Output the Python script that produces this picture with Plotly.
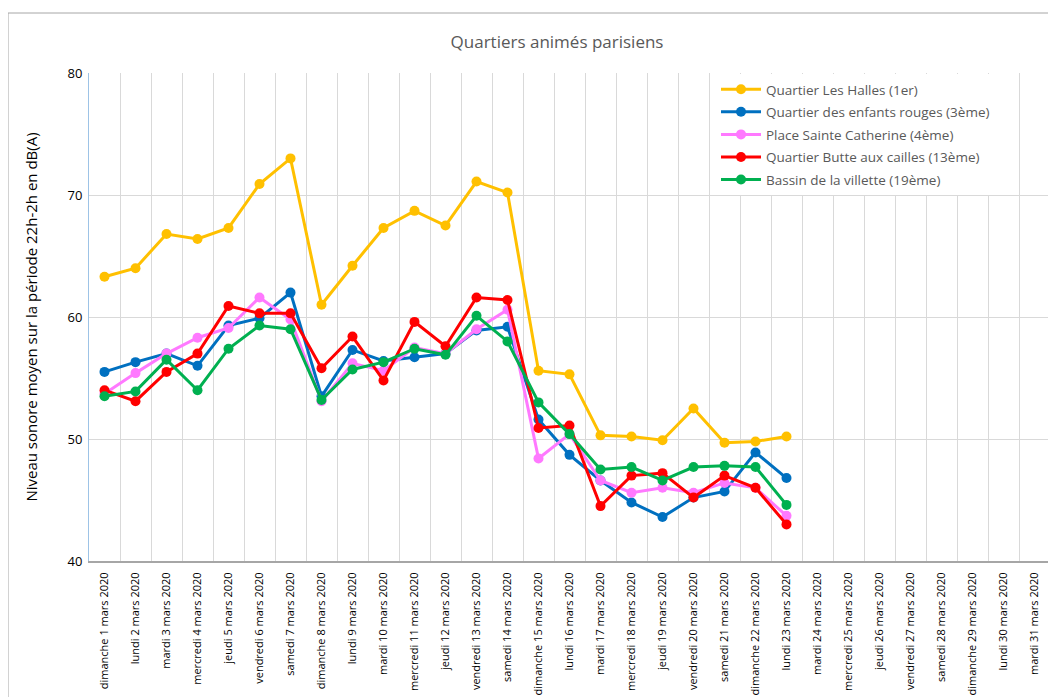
import plotly.graph_objects as go

days = ["dimanche", "lundi", "mardi", "mercredi", "jeudi", "vendredi", "samedi"]
categories = [f"{days[i % 7]} {i + 1} mars 2020" for i in range(31)]

series_names = [
    "Quartier Les Halles (1er)",
    "Quartier des enfants rouges (3ème)",
    "Place Sainte Catherine (4ème)",
    "Quartier Butte aux cailles (13ème)",
    "Bassin de la villette (19ème)",
]

halles = [63.3, 64.0, 66.8, 66.4, 67.3, 70.9, 73.0, 61.0, 64.2, 67.3, 68.7, 67.5,
          71.1, 70.2, 55.6, 55.3, 50.3, 50.2, 49.9, 52.5, 49.7, 49.8, 50.2]
enfants_rouges = [55.5, 56.3, 57.0, 56.0, 59.3, 59.9, 62.0, 53.5, 57.3, 56.4, 56.7, 57.0,
                  58.9, 59.2, 51.6, 48.7, 46.6, 44.8, 43.6, 45.2, 45.7, 48.9, 46.8]
sainte_catherine = [53.7, 55.4, 57.0, 58.3, 59.1, 61.6, 59.8, 53.1, 56.2, 55.6, 57.5, 57.0,
                    59.0, 60.6, 48.4, 50.4, 46.6, 45.6, 46.0, 45.6, 46.4, 46.0, 43.7]
butte_cailles = [54.0, 53.1, 55.5, 57.0, 60.9, 60.3, 60.3, 55.8, 58.4, 54.8, 59.6, 57.6,
                 61.6, 61.4, 50.9, 51.1, 44.5, 47.0, 47.2, 45.2, 47.0, 46.0, 43.0]
villette = [53.5, 53.9, 56.5, 54.0, 57.4, 59.3, 59.0, 53.2, 55.7, 56.3, 57.4, 56.9,
            60.1, 58.0, 53.0, 50.4, 47.5, 47.7, 46.6, 47.7, 47.8, 47.7, 44.6]

all_series = [halles, enfants_rouges, sainte_catherine, butte_cailles, villette]
colors = ["#FFC000", "#0070C0", "#FF79FF", "#FF0000", "#00B050"]

y_ticks = [40, 50, 60, 70, 80]

fig = go.Figure()
for i, (name, vals, col) in enumerate(zip(series_names, all_series, colors)):
    fig.add_trace(go.Scatter(
        x=categories[:len(vals)], y=vals, name=name, mode="lines+markers",
        legendgroup=f"g{i}",
        line=dict(color=col, width=3),
        marker=dict(color=col, size=10),
    ))

# page body has an 8px default margin: work in reference pixels, offset by 8
OFF = 8
VW, VH = 1056, 697
W, H = VW - OFF, VH - OFF
PL, PR, PT, PB = 89, 1050, 73, 561          # plot area in reference pixels
L, T = PL - OFF, PT - OFF
R, B = W - (PR - OFF), H - (PB - OFF)
pw, ph = W - L - R, H - T - B


def px_x(x):
    return (x - PL) / pw


def px_y(y):
    return (PB - y) / ph


fig.update_layout(
    width=W, height=H,
    margin=dict(l=L, r=R, t=T, b=B, autoexpand=False),
    paper_bgcolor="white", plot_bgcolor="white",
    title=dict(text="Quartiers animés parisiens", x=px_x(557), xref="paper",
               xanchor="center", y=1 - (42 - OFF) / H, yanchor="middle",
               font=dict(family="Open Sans", size=17, color="#595959")),
    font=dict(family="Open Sans", color="#404040"),
    showlegend=True,
    legend=dict(x=px_x(716), y=px_y(74), xanchor="left", yanchor="top",
                bgcolor="white", font=dict(family="Open Sans", size=13.5, color="#595959"),
                tracegroupgap=2, itemwidth=40),
    xaxis=dict(
        type="category", categoryorder="array", categoryarray=categories,
        range=[-0.5, 30.5], tickson="boundaries", showgrid=True, gridcolor="#D9D9D9",
        gridwidth=1, ticks="", tickangle=-90, automargin=False, ticklabelstandoff=5,
        tickfont=dict(family="Open Sans", size=11, color="#000000"),
        showline=True, linecolor="#A6A6A6", linewidth=2,
    ),
    yaxis=dict(
        range=[40, 80], tickvals=y_ticks, showgrid=True, gridcolor="#D9D9D9",
        gridwidth=1, zeroline=False, showline=True, linecolor="#9DC3E6", linewidth=1,
        ticks="", ticklabelstandoff=3, automargin=False,
        tickfont=dict(family="Open Sans", size=13, color="#000000"),
        title=dict(text="Niveau sonore moyen sur la période 22h-2h en dB(A)",
                   font=dict(family="Open Sans", size=15, color="#000000"), standoff=26),
    ),
    shapes=[
        dict(type="line", xref="paper", yref="paper",
             x0=px_x(8), x1=px_x(VW + 10), y0=px_y(13), y1=px_y(13),
             line=dict(color="#A6A6A6", width=1)),
        dict(type="line", xref="paper", yref="paper",
             x0=px_x(8), x1=px_x(8), y0=px_y(13), y1=px_y(VH + 10),
             line=dict(color="#A6A6A6", width=1)),
    ],
)

fig.write_html("out.html")
